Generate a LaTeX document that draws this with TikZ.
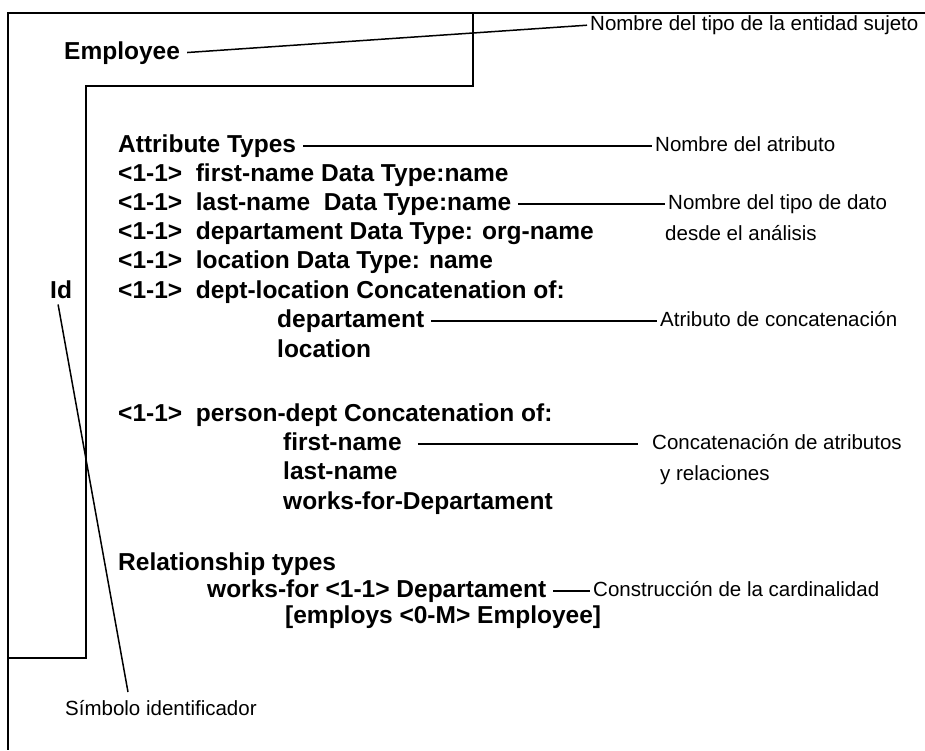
\documentclass[tikz,border=0pt]{standalone}
\usepackage{fontspec}
\setmainfont{Liberation Sans}
\begin{document}
\begin{tikzpicture}[x=1pt,y=-1pt,
  bt/.style={font=\fontsize{24.5}{29}\selectfont\bfseries, anchor=west, inner sep=0pt, text height=17.5pt, text depth=5pt},
  an/.style={font=\fontsize{20.5}{24}\selectfont, anchor=west, inner sep=0pt, text height=15pt, text depth=4pt},
  frame/.style={line width=2.6pt},
  brk/.style={line width=2.1pt},
  conn/.style={line width=1.5pt, shorten <=7pt, shorten >=3pt}]
\useasboundingbox[fill=white] (0,0) rectangle (925,750);

% frame and bracket
\draw[frame] (925,13) -- (8,13) -- (8,750);
\draw[brk] (473,13) -- (473,86) -- (86,86) -- (86,658) -- (8,658);

% entity name
\node[bt] (emp) at (64,53) {Employee};
\node[an] (n1) at (590,25) {Nombre del tipo de la entidad sujeto};

% attribute types
\node[bt] (att) at (118,146) {Attribute Types};
\node[an] (n2) at (655,146) {Nombre del atributo};
\node[bt] (r1) at (118,175) {<1-1>\ \ first-name Data Type:name};
\node[bt] (r2) at (118,204) {<1-1>\ \ last-name\ \ Data Type:name};
\node[an] (n3) at (668,204) {Nombre del tipo de dato};
\node[an] (n3b) at (665,235) {desde el análisis};
\node[bt] (r3) at (118,233) {<1-1>\ \ departament Data Type: org-name};
\node[bt] (r4) at (118,262) {<1-1>\ \ location Data Type: name};
\node[bt] (r5) at (118,292) {<1-1>\ \ dept-location Concatenation of:};
\node[bt] (id) at (50,292) {Id};
\node[bt] (r6) at (277,321) {departament};
\node[an] (n4) at (660,321) {Atributo de concatenación};
\node[bt] (r7) at (277,351) {location};
\node[bt] (r8) at (118,415) {<1-1>\ \ person-dept Concatenation of:};
\node[bt] (r9) at (283,444) {first-name};
\node[an] (n5) at (652,444) {Concatenación de atributos};
\node[an] (n5b) at (660,475) {y relaciones};
\node[bt] (r10) at (283,473) {last-name};
\node[bt] (r11) at (283,503) {works-for-Departament};

% relationship types
\node[bt] (r12) at (118,564) {Relationship types};
\node[bt] (r13) at (207,591) {works-for <1-1> Departament};
\node[an] (n6) at (593,591) {Construcción de la cardinalidad};
\node[bt] (r14) at (285,617) {[employs <0-M> Employee]};

\node[an] (sym) at (65,710) {Símbolo identificador};
\coordinate (idend) at (128,692);

% connectors
\draw[conn] (emp.east) -- (n1.west);
\draw[conn] (att.east) -- (n2.west);
\draw[conn] (r2.east) -- (n3.west);
\draw[conn] (r6.east) -- (n4.west);
\draw[conn, shorten <=16pt, shorten >=14pt] (r9.east) -- (n5.west);
\draw[conn] (r13.east) -- (n6.west);
\draw[line width=1.5pt] ([xshift=-3pt,yshift=-1pt]id.south) -- (idend);
\end{tikzpicture}
\end{document}
